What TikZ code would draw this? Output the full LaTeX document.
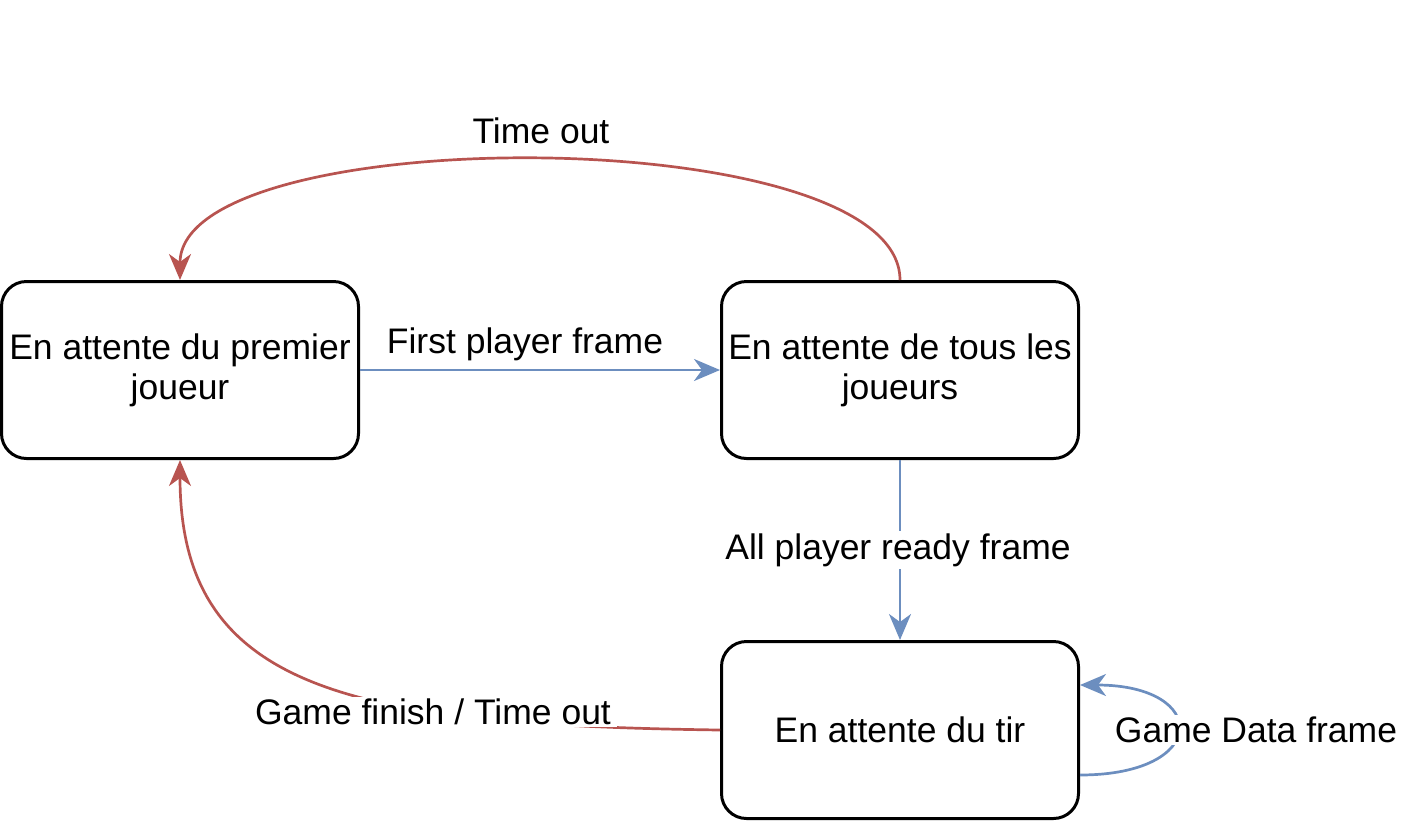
\documentclass[tikz,border=0pt]{standalone}
\usepackage{fontspec}
\setmainfont{Liberation Sans}
\usetikzlibrary{arrows.meta,calc}
\definecolor{redc}{HTML}{B85450}
\definecolor{bluec}{HTML}{6C8EBF}
\tikzset{
  state/.style={draw=black, line width=3pt, rounded corners=25pt, minimum width=357pt, minimum height=177pt, align=center, font=\fontsize{35.5}{40}\selectfont, fill=white},
  lbl/.style={font=\fontsize{35.5}{40}\selectfont, inner sep=2pt},
  lblw/.style={lbl, fill=white},
  tip/.style={-{Stealth[length=26pt,width=22pt,inset=8pt]}},
  redline/.style={draw=redc, line width=2.7pt, tip},
  blueline/.style={draw=bluec, line width=2.7pt, tip},
}
\begin{document}
\begin{tikzpicture}[x=1pt,y=-1pt]
\useasboundingbox (0,0) rectangle (1411,823);
\node[state] (A) at (180,370) {En attente du premier\\joueur};
\node[state] (B) at (900,370) {En attente de tous les\\joueurs};
\node[state] (C) at (900,730) {En attente du tir};
\coordinate (Cs) at ($(C.east)+(0,45)$);
\coordinate (Ce) at ($(C.east)+(0,-45)$);
% connectors
\draw[blueline] (A.east) -- (B.west);
\draw[blueline] (B.south) -- (C.north);
\draw[redline] (B.north) .. controls (900,120) and (180,120) .. (A.north);
\draw[redline] (C.west) .. controls (350,725) and (180,690) .. (A.south);
\draw[blueline] (Cs) .. controls (1210,775) and (1210,685) .. (Ce);
% labels
\node[lbl] (l1) at (525,344) {First player frame};
\node[lbl] (l2) at (541,131) {Time out};
\node[lblw] (l3) at (898,550) {All player ready frame};
\node[lblw, inner xsep=6pt] (l4) at (433,712) {Game finish / Time out};
\node[lblw] (l5) at (1256,730) {Game Data frame};
\end{tikzpicture}
\end{document}
